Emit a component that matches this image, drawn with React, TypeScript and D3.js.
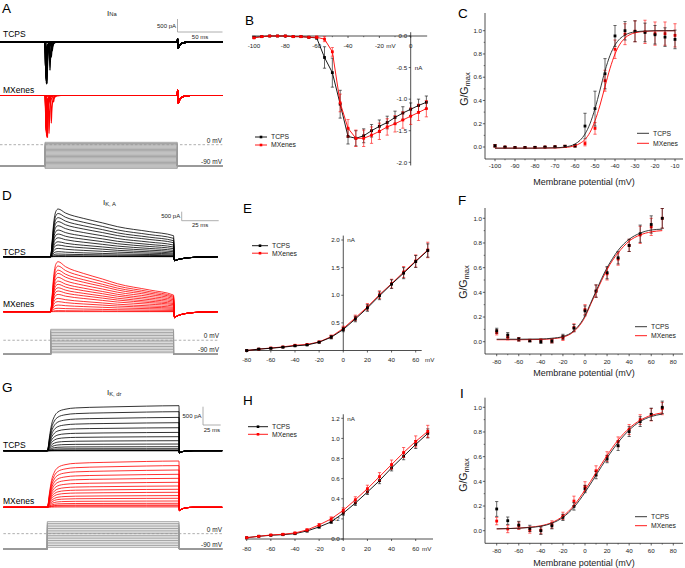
import React from "react";
import * as d3 from "d3";

type Pt = [number, number];
type Scale = d3.ScaleLinear<number, number>;

const FONT = "'Liberation Sans', Arial, Helvetica, sans-serif";
const RED = "#ff0000";
const GREY = "#9a9a9a";

// ---------- I_Na (A, B, C) ----------
const naVolt = [-100, -95, -90, -85, -80, -75, -70, -65, -60, -55, -50, -45, -40, -35, -30, -25, -20, -15, -10, -5, 0, 5, 10];
const naTcps = [-0.02, -0.01, 0.0, 0.0, 0.0, -0.01, -0.01, -0.02, -0.03, -0.34, -0.58, -1.08, -1.59, -1.62, -1.58, -1.5, -1.43, -1.37, -1.29, -1.22, -1.16, -1.1, -1.05];
const naTcpsErr = [0.01, 0.01, 0.01, 0.01, 0.01, 0.01, 0.01, 0.01, 0.02, 0.17, 0.23, 0.22, 0.12, 0.12, 0.11, 0.1, 0.1, 0.1, 0.1, 0.1, 0.1, 0.1, 0.1];
const naMx = [-0.03, -0.01, 0.0, 0.0, 0.0, -0.01, -0.01, -0.02, -0.02, -0.05, -0.25, -1.06, -1.46, -1.62, -1.62, -1.57, -1.51, -1.44, -1.39, -1.33, -1.27, -1.21, -1.15];
const naMxErr = [0.01, 0.01, 0.01, 0.01, 0.01, 0.01, 0.01, 0.01, 0.02, 0.04, 0.07, 0.14, 0.14, 0.13, 0.13, 0.13, 0.13, 0.13, 0.13, 0.13, 0.13, 0.13, 0.13];

// spike latency (ms) of each trace in A
const naLatTcps = [1, 1, 1, 1, 1, 1, 1, 1, 1, 8, 7, 5.5, 2.2, 1.8, 1.5, 1.3, 1.2, 1.1, 1.0, 0.95, 0.9, 0.85, 0.8];
const naLatMx = [1, 1, 1, 1, 1, 1, 1, 1, 1, 11, 9.5, 7, 4.5, 2.8, 2.2, 1.8, 1.6, 1.4, 1.3, 1.2, 1.1, 1.05, 1.0];
const naSpikeT = [-1.2, -0.5, 0, 0.5, 1.2, 2.2, 4, 7];
const naSpikeF = [0, 0.35, 1, 0.6, 0.3, 0.12, 0.03, 0];
const naTailT = [0, 0.4, 1, 2.5, 5, 9, 15];
const naTailTcps = [0, 120, -230, -130, -50, -15, 0];
const naTailMx = [0, 230, -300, -170, -70, -20, 0];
const naPulse = 147;

const gnaVolt = [-100, -95, -90, -85, -80, -75, -70, -65, -60, -55, -50, -45, -40, -35, -30, -25, -20, -15, -10];
const gnaTcps = [0.01, 0.0, -0.005, -0.005, -0.003, 0.0, 0.002, 0.005, 0.01, 0.18, 0.33, 0.63, 0.955, 1.0, 0.995, 0.985, 0.965, 0.945, 0.925];
const gnaTcpsErr = [0.01, 0.005, 0.005, 0.005, 0.005, 0.005, 0.005, 0.01, 0.01, 0.11, 0.15, 0.13, 0.09, 0.08, 0.09, 0.08, 0.08, 0.08, 0.08];
const gnaMx = [0.01, 0.0, -0.005, -0.005, -0.003, 0.0, 0.002, 0.005, 0.01, 0.03, 0.16, 0.57, 0.84, 0.97, 0.995, 0.99, 0.975, 0.975, 0.96];
const gnaMxErr = [0.01, 0.005, 0.005, 0.005, 0.005, 0.005, 0.005, 0.01, 0.01, 0.02, 0.05, 0.09, 0.08, 0.09, 0.09, 0.1, 0.1, 0.1, 0.1];
const gnaFitV = [-100, -90, -80, -70, -65, -60, -57.5, -55, -52.5, -50, -47.5, -45, -42.5, -40, -37.5, -35, -30, -25, -20, -10];
const gnaFitTcps = [-0.01, -0.01, -0.01, -0.007, 0.0, 0.026, 0.057, 0.112, 0.2, 0.33, 0.49, 0.655, 0.787, 0.877, 0.932, 0.963, 0.99, 0.997, 1.0, 1.0];
const gnaFitMx = [-0.01, -0.01, -0.01, -0.008, -0.004, 0.012, 0.031, 0.065, 0.126, 0.225, 0.36, 0.52, 0.675, 0.8, 0.885, 0.937, 0.982, 0.994, 0.998, 1.0];

// ---------- I_K,A (D, E, F) ----------
const kVolt = [-80, -70, -60, -50, -40, -30, -20, -10, 0, 10, 20, 30, 40, 50, 60, 70];
const kaPeakTcps = [5, 20, 60, 150, 280, 460, 650, 830, 1050, 1260, 1480, 1720, 1950, 2170, 2400, 2650];
const kaEndTcps = [2, 8, 19, 56, 93, 148, 204, 278, 352, 444, 537, 648, 778, 889, 1019, 1167];
const kaPeakMx = [5, 60, 190, 370, 560, 740, 960, 1150, 1330, 1520, 1700, 1910, 2130, 2310, 2540, 2780];
const kaEndMx = [2, 20, 70, 130, 190, 250, 320, 390, 450, 520, 590, 660, 730, 800, 860, 925];
const kaRiseT = [0, 0.8, 2, 3.5, 5];
const kaRiseF = [0, 0.25, 0.7, 0.95, 1];
const kaDecayT = [10, 22, 35, 45, 67, 83];
const kaDecayF = [0.85, 0.65, 0.48, 0.34, 0.15, 0];
const kaTailT = [0, 0.7, 2, 5, 10, 18, 30];
const kaTailTcps = [0, -220, -180, -120, -60, -20, 0];
const kaTailMx = [0, -330, -260, -160, -80, -25, 0];
const kaPulse = 83;

const kaTcps = [0.0, 0.025, 0.04, 0.06, 0.084, 0.1, 0.15, 0.24, 0.38, 0.57, 0.77, 0.99, 1.2, 1.4, 1.61, 1.81];
const kaTcpsErr = [0.01, 0.01, 0.01, 0.01, 0.01, 0.01, 0.015, 0.03, 0.04, 0.05, 0.06, 0.07, 0.08, 0.1, 0.11, 0.12];
const kaMx = [0.0, 0.025, 0.045, 0.065, 0.095, 0.11, 0.155, 0.25, 0.4, 0.59, 0.79, 1.01, 1.21, 1.42, 1.62, 1.82];
const kaMxErr = [0.01, 0.01, 0.01, 0.01, 0.01, 0.01, 0.015, 0.03, 0.04, 0.05, 0.06, 0.07, 0.08, 0.1, 0.11, 0.14];

const gkaTcps = [0.089, 0.054, 0.02, 0.008, 0.0, 0.005, 0.04, 0.11, 0.25, 0.41, 0.56, 0.68, 0.78, 0.875, 0.95, 1.0];
const gkaTcpsErr = [0.02, 0.02, 0.015, 0.01, 0.015, 0.015, 0.02, 0.03, 0.04, 0.05, 0.05, 0.05, 0.05, 0.07, 0.07, 0.08];
const gkaMx = [0.075, 0.035, 0.02, 0.01, 0.01, 0.005, 0.03, 0.115, 0.26, 0.41, 0.55, 0.67, 0.78, 0.865, 0.93, 1.0];
const gkaMxErr = [0.02, 0.02, 0.015, 0.01, 0.015, 0.015, 0.02, 0.03, 0.04, 0.05, 0.05, 0.05, 0.05, 0.07, 0.07, 0.08];
const gkaFitV = [-80, -60, -40, -30, -20, -10, 0, 5, 10, 15, 20, 25, 30, 40, 50, 60, 70];
const gkaFitTcps = [0.02, 0.02, 0.022, 0.028, 0.042, 0.09, 0.21, 0.31, 0.41, 0.51, 0.6, 0.675, 0.74, 0.83, 0.88, 0.905, 0.912];
const gkaFitMx = [0.016, 0.016, 0.018, 0.024, 0.037, 0.083, 0.2, 0.3, 0.4, 0.495, 0.585, 0.66, 0.72, 0.815, 0.865, 0.89, 0.9];

// ---------- I_K,dr (G, H, I) ----------
const kdrAmpTcps = [0, 2, 4, 8, 19, 55, 109, 182, 273, 383, 500, 628, 765, 910, 1066, 1230];
const kdrAmpMx = [10, 40, 63, 109, 172, 246, 320, 410, 492, 582, 683, 792, 902, 1019, 1139, 1265];
const kdrRiseT = [0, 1, 3, 6, 10, 15, 25, 40, 80, 140, 186];
const kdrRiseF = [0, 0.05, 0.3, 0.58, 0.76, 0.86, 0.92, 0.95, 0.97, 0.99, 1.0];
const kdrTailT = [0, 0.6, 2, 5, 10, 20];
const kdrTailTcps = [0, -60, -45, -25, -10, 0];
const kdrTailMx = [0, -90, -70, -40, -15, 0];
const kdrPulse = 186;

const kdrTcps = [0.013, 0.027, 0.037, 0.043, 0.053, 0.08, 0.12, 0.17, 0.257, 0.357, 0.467, 0.58, 0.707, 0.823, 0.94, 1.05];
const kdrTcpsErr = [0.005, 0.005, 0.006, 0.007, 0.008, 0.01, 0.012, 0.015, 0.02, 0.025, 0.025, 0.03, 0.03, 0.035, 0.04, 0.045];
const kdrMx = [0.013, 0.027, 0.04, 0.047, 0.06, 0.09, 0.14, 0.2, 0.285, 0.39, 0.5, 0.62, 0.74, 0.86, 0.97, 1.07];
const kdrMxErr = [0.005, 0.005, 0.006, 0.007, 0.008, 0.012, 0.015, 0.02, 0.025, 0.03, 0.035, 0.04, 0.045, 0.05, 0.055, 0.06];

const gkdrTcps = [0.176, 0.081, 0.046, 0.019, 0.0, 0.04, 0.108, 0.197, 0.338, 0.451, 0.581, 0.689, 0.803, 0.884, 0.943, 1.0];
const gkdrTcpsErr = [0.06, 0.03, 0.03, 0.025, 0.03, 0.025, 0.025, 0.03, 0.03, 0.03, 0.03, 0.04, 0.04, 0.04, 0.05, 0.05];
const gkdrMx = [0.078, 0.014, 0.04, 0.005, 0.005, 0.05, 0.12, 0.24, 0.357, 0.486, 0.6, 0.72, 0.82, 0.9, 0.94, 0.99];
const gkdrMxErr = [0.03, 0.03, 0.03, 0.025, 0.03, 0.03, 0.03, 0.04, 0.04, 0.04, 0.04, 0.04, 0.04, 0.04, 0.05, 0.05];
const gkdrFitV = [-80, -70, -60, -50, -40, -30, -20, -10, 0, 10, 20, 30, 40, 50, 60, 70];
const gkdrFitTcps = [0.015, 0.017, 0.02, 0.026, 0.036, 0.06, 0.108, 0.19, 0.31, 0.45, 0.59, 0.715, 0.815, 0.885, 0.925, 0.945];
const gkdrFitMx = [0.015, 0.017, 0.021, 0.028, 0.04, 0.066, 0.118, 0.205, 0.33, 0.47, 0.61, 0.735, 0.83, 0.895, 0.935, 0.955];

// ---------- trace builders ----------
function buildNa(peaks: number[], lat: number[], tail: number[], t0: number, t1: number): Pt[][] {
  return peaks.map((p, i) => {
    const amp = p * 1000;
    const pts: Pt[] = [[t0, 0], [0, 0]];
    naSpikeT.forEach((dt, k) => {
      const t = lat[i] + dt;
      if (t > 0.05) pts.push([t, amp * naSpikeF[k]]);
    });
    pts.push([naPulse, 0]);
    naTailT.forEach((dt, k) => { if (k > 0) pts.push([naPulse + dt, tail[k]]); });
    pts.push([t1, 0]);
    return pts;
  });
}

function buildKa(peak: number[], end: number[], tail: number[], t0: number, t1: number): Pt[][] {
  return peak.map((p, i) => {
    const e = end[i];
    const pts: Pt[] = [[t0, 0], [0, 0]];
    kaRiseT.forEach((t, k) => { if (k > 0) pts.push([t, p * kaRiseF[k]]); });
    kaDecayT.forEach((t, k) => pts.push([t, e + (p - e) * kaDecayF[k]]));
    kaTailT.forEach((t, k) => { if (k > 0) pts.push([kaPulse + t, tail[k]]); });
    pts.push([t1, 0]);
    return pts;
  });
}

function buildKdr(amp: number[], tail: number[], t0: number, t1: number): Pt[][] {
  return amp.map((a) => {
    const pts: Pt[] = [[t0, 0], [0, 0]];
    kdrRiseT.forEach((t, k) => { if (k > 0) pts.push([t, a * kdrRiseF[k]]); });
    kdrTailT.forEach((t, k) => { if (k > 0) pts.push([kdrPulse + t, tail[k]]); });
    pts.push([t1, 0]);
    return pts;
  });
}

// ---------- small drawing pieces ----------
const Traces = ({ sets, x, y, color, w = 0.8 }: { sets: Pt[][]; x: Scale; y: Scale; color: string; w?: number }) => {
  const line = d3.line<Pt>().x((d) => x(d[0])).y((d) => y(d[1])).curve(d3.curveMonotoneX);
  return <g>{sets.map((s, i) => <path key={i} d={line(s) || ""} fill="none" stroke={color} strokeWidth={w} />)}</g>;
};

const Protocol = ({ steps, x, v, t0, t1, pulse, labelX }: any) => {
  const line = d3.line<Pt>().x((d) => x(d[0])).y((d) => v(d[1]));
  return (
    <g>
      <line x1={x(t0)} x2={x(t1)} y1={v(0)} y2={v(0)} stroke={GREY} strokeWidth={0.8} strokeDasharray="2.5,2" />
      {steps.map((s: number, i: number) => (
        <path key={i} d={line([[t0, -90], [0, -90], [0, s], [pulse, s], [pulse, -90], [t1, -90]]) || ""} fill="none" stroke={GREY} strokeWidth={0.9} />
      ))}
      <text x={labelX} y={v(0) - 2} fontSize={6.5} textAnchor="end" fill="#222">0 mV</text>
      <text x={labelX} y={v(-90) - 2} fontSize={6.5} textAnchor="end" fill="#222">-90 mV</text>
    </g>
  );
};

const ScaleBar = ({ x0, y0, x, y, ms, pA, pALabel, msLabel }: any) => {
  const w = x(ms) - x(0);
  const h = y(0) - y(pA);
  return (
    <g>
      <path d={`M${x0},${y0 - h}V${y0}H${x0 + w}`} fill="none" stroke={GREY} strokeWidth={0.8} />
      <text x={x0 - 1.5} y={y0 - h / 2 + 2.2} fontSize={6} textAnchor="end" fill="#222">{pALabel}</text>
      <text x={x0 + w / 2} y={y0 + 6.5} fontSize={6} textAnchor="middle" fill="#222">{msLabel}</text>
    </g>
  );
};

const Series = ({ v, m, e, x, y, color, joined }: any) => {
  const pts: Pt[] = v.map((d: number, i: number) => [x(d), y(m[i])]);
  return (
    <g>
      {joined && <path d={d3.line<Pt>()(pts) || ""} fill="none" stroke={color} strokeWidth={0.9} />}
      {v.map((d: number, i: number) => {
        const cx = x(d);
        const y1 = y(m[i] + e[i]);
        const y2 = y(m[i] - e[i]);
        return (
          <g key={i} stroke={color} strokeWidth={0.7} opacity={0.85}>
            <line x1={cx} x2={cx} y1={y1} y2={y2} />
            <line x1={cx - 1.6} x2={cx + 1.6} y1={y1} y2={y1} />
            <line x1={cx - 1.6} x2={cx + 1.6} y1={y2} y2={y2} />
          </g>
        );
      })}
      {pts.map((p, i) => <rect key={i} x={p[0] - 1.4} y={p[1] - 1.4} width={2.8} height={2.8} fill={color} />)}
    </g>
  );
};

const Fit = ({ v, m, x, y, color }: any) => {
  const line = d3.line<number>().x((d) => x(d)).y((_, i) => y(m[i])).curve(d3.curveMonotoneX);
  return <path d={line(v) || ""} fill="none" stroke={color} strokeWidth={0.9} />;
};

const Letter = ({ x, y, t }: { x: number; y: number; t: string }) => (
  <text x={x} y={y} fontSize={13.5} fill="#000">{t}</text>
);

const IVLegend = ({ x0, y0, dy, len }: { x0: number; y0: number; dy: number; len: number }) => (
  <g fontSize={6.8} fill="#222">
    {[["TCPS", "#000"], ["MXenes", RED]].map(([t, c], i) => (
      <g key={t} transform={`translate(${x0},${y0 + i * dy})`}>
        <line x1={0} x2={len} y1={0} y2={0} stroke={c} strokeWidth={0.9} />
        <rect x={len / 2 - 1.3} y={-1.3} width={2.6} height={2.6} fill={c} />
        <text x={len + 4} y={2.3}>{t}</text>
      </g>
    ))}
  </g>
);

const GVLegend = ({ x0, y0, dy }: { x0: number; y0: number; dy: number }) => (
  <g fontSize={6.8} fill="#222">
    {[["TCPS", "#222"], ["MXenes", RED]].map(([t, c], i) => (
      <g key={t} transform={`translate(${x0},${y0 + i * dy})`}>
        <line x1={0} x2={12} y1={0} y2={0} stroke={c} strokeWidth={0.9} />
        <text x={16} y={2.3}>{t}</text>
      </g>
    ))}
  </g>
);

// G/Gmax panel frame
const GVFrame = ({ x, y, left, bottom, top, right, xMajor, xMinor, labelY, titleY, yTitleX, yTitleY }: any) => {
  const yMajor = [0, 0.2, 0.4, 0.6, 0.8, 1.0];
  const yMinor = [0.1, 0.3, 0.5, 0.7, 0.9];
  return (
    <g fill="#222">
      <path d={`M${left},${top}V${bottom}H${right}`} fill="none" stroke="#222" strokeWidth={0.8} />
      {xMajor.map((d: number) => (
        <g key={d}>
          <line x1={x(d)} x2={x(d)} y1={bottom} y2={bottom + 2.2} stroke="#222" strokeWidth={0.7} />
          <text x={x(d)} y={labelY} fontSize={6.2} textAnchor="middle">{d}</text>
        </g>
      ))}
      {xMinor.map((d: number) => <line key={d} x1={x(d)} x2={x(d)} y1={bottom} y2={bottom + 1.3} stroke="#222" strokeWidth={0.6} />)}
      {yMajor.map((d) => (
        <g key={d}>
          <line x1={left - 2.2} x2={left} y1={y(d)} y2={y(d)} stroke="#222" strokeWidth={0.7} />
          <text x={left - 3} y={y(d) + 2.2} fontSize={6.2} textAnchor="end">{d.toFixed(1)}</text>
        </g>
      ))}
      {yMinor.map((d) => <line key={d} x1={left - 1.3} x2={left} y1={y(d)} y2={y(d)} stroke="#222" strokeWidth={0.6} />)}
      <text x={(left + right) / 2} y={titleY} fontSize={9} textAnchor="middle">Membrane potential (mV)</text>
      <text transform={`translate(${yTitleX},${yTitleY}) rotate(-90)`} fontSize={10.5} textAnchor="middle">
        G/G<tspan fontSize={7.5} dy={1.5}>max</tspan>
      </text>
    </g>
  );
};

export default function App() {
  // ----- A: I_Na traces -----
  const xA = d3.scaleLinear().domain([0, 50]).range([45, 90]);
  const yAb = d3.scaleLinear().domain([0, 500]).range([42, 29]);
  const yAr = d3.scaleLinear().domain([0, 500]).range([95.5, 82.5]);
  const vA = d3.scaleLinear().domain([-90, 0]).range([166, 144.7]);
  const naT0 = -50, naT1 = 197;
  const naBlack = buildNa(naTcps, naLatTcps, naTailTcps, naT0, naT1);
  const naRed = buildNa(naMx, naLatMx, naTailMx, naT0, naT1);

  // ----- D: I_K,A traces -----
  const xD = d3.scaleLinear().domain([0, 25]).range([50.7, 87.7]);
  const yDb = d3.scaleLinear().domain([0, 500]).range([256.7, 247.7]);
  const yDr = d3.scaleLinear().domain([0, 500]).range([311.7, 302.7]);
  const vD = d3.scaleLinear().domain([-90, 70]).range([354.3, 329.3]);
  const kaT0 = -32, kaT1 = 113;
  const kaBlack = buildKa(kaPeakTcps, kaEndTcps, kaTailTcps, kaT0, kaT1);
  const kaRed = buildKa(kaPeakMx, kaEndMx, kaTailMx, kaT0, kaT1);

  // ----- G: I_K,dr traces -----
  const xG = d3.scaleLinear().domain([0, 25]).range([47.3, 65]);
  const yGb = d3.scaleLinear().domain([0, 500]).range([450.7, 432.4]);
  const yGr = d3.scaleLinear().domain([0, 500]).range([507.3, 489]);
  const vG = d3.scaleLinear().domain([-90, 70]).range([549, 521.7]);
  const kdrT0 = -62, kdrT1 = 247;
  const kdrBlack = buildKdr(kdrAmpTcps, kdrTailTcps, kdrT0, kdrT1);
  const kdrRed = buildKdr(kdrAmpMx, kdrTailMx, kdrT0, kdrT1);

  // ----- B -----
  const xB = d3.scaleLinear().domain([-100, 0]).range([254, 410.7]);
  const yB = d3.scaleLinear().domain([0, -2]).range([36, 162.3]);
  // ----- E / H -----
  const xE = d3.scaleLinear().domain([-80, 60]).range([246.7, 415.7]);
  const yE = d3.scaleLinear().domain([0, 2]).range([350.5, 240]);
  const yH = d3.scaleLinear().domain([0, 1.2]).range([539, 418.3]);
  // ----- C / F / I -----
  const xC = d3.scaleLinear().domain([-100, -10]).range([495, 675]);
  const yC = d3.scaleLinear().domain([0, 1]).range([147, 30.7]);
  const xF = d3.scaleLinear().domain([-80, 80]).range([496.7, 673.3]);
  const yF = d3.scaleLinear().domain([0, 1]).range([341.7, 218.3]);
  const yI = d3.scaleLinear().domain([0, 1]).range([530.7, 407.3]);

  const kMajor = [-80, -60, -40, -20, 0, 20, 40, 60];

  return (
    <svg width={685} height={568} style={{ position: "absolute", left: 0, top: 0, background: "#fff" }} fontFamily={FONT}>
      <rect width={685} height={568} fill="#fff" />

      {/* ===== A ===== */}
      <Letter x={2} y={12.5} t="A" />
      <text x={107} y={15.5} fontSize={8} fill="#222">I<tspan fontSize={5.8} dy={0.5}>Na</tspan></text>
      <text x={3} y={37} fontSize={8.5} fill="#000">TCPS</text>
      <text x={3} y={93} fontSize={8.5} fill="#000">MXenes</text>
      <Traces sets={naBlack} x={xA} y={yAb} color="#000" w={1.4} />
      <Traces sets={naRed} x={xA} y={yAr} color={RED} w={1.2} />
      <ScaleBar x0={177.5} y0={32} x={xA} y={yAb} ms={50} pA={500} pALabel="500 pA" msLabel="50 ms" />
      <Protocol steps={naVolt} x={xA} v={vA} t0={naT0} t1={naT1} pulse={naPulse} labelX={222} />

      {/* ===== B ===== */}
      <Letter x={245} y={25} t="B" />
      <g fill="#222">
        <line x1={xB(-101.3)} x2={xB(10.5)} y1={yB(0)} y2={yB(0)} stroke="#222" strokeWidth={0.8} />
        <line x1={xB(0)} x2={xB(0)} y1={yB(0.06)} y2={yB(-2.05)} stroke="#222" strokeWidth={0.8} />
        {[-100, -80, -60, -40, -20, 0].map((d) => (
          <g key={d}>
            <line x1={xB(d)} x2={xB(d)} y1={yB(0)} y2={yB(0) + 2} stroke="#222" strokeWidth={0.7} />
            <text x={xB(d)} y={48} fontSize={6.2} textAnchor="middle">{d}</text>
          </g>
        ))}
        <text x={xB(-20) + 7} y={48} fontSize={6.2}>mV</text>
        {[-90, -70, -50, -30, -10].map((d) => (
          <line key={d} x1={xB(d)} x2={xB(d)} y1={yB(0)} y2={yB(0) + 1.2} stroke="#222" strokeWidth={0.6} />
        ))}
        {[0, -0.5, -1, -1.5, -2].map((d) => (
          <g key={d}>
            <line x1={xB(0) - 2} x2={xB(0)} y1={yB(d)} y2={yB(d)} stroke="#222" strokeWidth={0.7} />
            <text x={xB(0) - 3.5} y={yB(d) + 2.2} fontSize={6.2} textAnchor="end">{d.toFixed(1)}</text>
          </g>
        ))}
        <text x={xB(0) + 4} y={yB(-0.5) + 2.2} fontSize={6.2}>nA</text>
      </g>
      <Series v={naVolt} m={naTcps} e={naTcpsErr} x={xB} y={yB} color="#000" joined />
      <Series v={naVolt} m={naMx} e={naMxErr} x={xB} y={yB} color={RED} joined />
      <IVLegend x0={255} y0={137} dy={8} len={12} />

      {/* ===== C ===== */}
      <Letter x={458} y={18} t="C" />
      <GVFrame x={xC} y={yC} left={485} bottom={159} top={13} right={683}
        xMajor={[-100, -90, -80, -70, -60, -50, -40, -30, -20, -10]}
        xMinor={[-95, -85, -75, -65, -55, -45, -35, -25, -15]}
        labelY={168.3} titleY={185} yTitleX={468} yTitleY={89} />
      <Series v={gnaVolt} m={gnaMx} e={gnaMxErr} x={xC} y={yC} color={RED} />
      <Series v={gnaVolt} m={gnaTcps} e={gnaTcpsErr} x={xC} y={yC} color="#000" />
      <Fit v={gnaFitV} m={gnaFitMx} x={xC} y={yC} color={RED} />
      <Fit v={gnaFitV} m={gnaFitTcps} x={xC} y={yC} color="#222" />
      <GVLegend x0={637} y0={133.3} dy={10} />

      {/* ===== D ===== */}
      <Letter x={2} y={200} t="D" />
      <text x={103} y={205} fontSize={8} fill="#222">I<tspan fontSize={5.8} dy={0.5}>K, A</tspan></text>
      <text x={3} y={255} fontSize={8.5} fill="#000">TCPS</text>
      <text x={3} y={307} fontSize={8.5} fill="#000">MXenes</text>
      <Traces sets={kaBlack} x={xD} y={yDb} color="#000" w={0.8} />
      <Traces sets={kaRed} x={xD} y={yDr} color={RED} w={0.8} />
      <ScaleBar x0={181.7} y0={220.7} x={xD} y={yDb} ms={25} pA={500} pALabel="500 pA" msLabel="25 ms" />
      <Protocol steps={kVolt} x={xD} v={vD} t0={kaT0} t1={kaT1} pulse={kaPulse} labelX={219} />

      {/* ===== E ===== */}
      <Letter x={243} y={213} t="E" />
      <g fill="#222">
        <line x1={245} x2={421.7} y1={yE(0)} y2={yE(0)} stroke="#222" strokeWidth={0.8} />
        <line x1={xE(0)} x2={xE(0)} y1={yE(0)} y2={yE(2.08)} stroke="#222" strokeWidth={0.8} />
        {kMajor.map((d) => (
          <g key={d}>
            <line x1={xE(d)} x2={xE(d)} y1={yE(0)} y2={yE(0) + 2} stroke="#222" strokeWidth={0.7} />
            <text x={xE(d)} y={361.5} fontSize={6.2} textAnchor="middle">{d}</text>
          </g>
        ))}
        <text x={425} y={361.5} fontSize={6.2}>mV</text>
        {[0.5, 1, 1.5, 2].map((d) => (
          <g key={d}>
            <line x1={xE(0) - 2} x2={xE(0)} y1={yE(d)} y2={yE(d)} stroke="#222" strokeWidth={0.7} />
            <text x={xE(0) - 3.5} y={yE(d) + 2.2} fontSize={6.2} textAnchor="end">{d.toFixed(1)}</text>
          </g>
        ))}
        <text x={xE(0) + 4} y={yE(2) + 2.2} fontSize={6.2}>nA</text>
      </g>
      <Series v={kVolt} m={kaMx} e={kaMxErr} x={xE} y={yE} color={RED} joined />
      <Series v={kVolt} m={kaTcps} e={kaTcpsErr} x={xE} y={yE} color="#000" joined />
      <IVLegend x0={252} y0={245.7} dy={7.5} len={16} />

      {/* ===== F ===== */}
      <Letter x={458} y={205} t="F" />
      <GVFrame x={xF} y={yF} left={485} bottom={354} top={208} right={683}
        xMajor={[-80, -60, -40, -20, 0, 20, 40, 60, 80]}
        xMinor={[-70, -50, -30, -10, 10, 30, 50, 70]}
        labelY={364} titleY={376} yTitleX={467} yTitleY={282} />
      <Series v={kVolt} m={gkaMx} e={gkaMxErr} x={xF} y={yF} color={RED} />
      <Series v={kVolt} m={gkaTcps} e={gkaTcpsErr} x={xF} y={yF} color="#000" />
      <Fit v={gkaFitV} m={gkaFitMx} x={xF} y={yF} color={RED} />
      <Fit v={gkaFitV} m={gkaFitTcps} x={xF} y={yF} color="#222" />
      <GVLegend x0={635} y0={326.7} dy={9} />

      {/* ===== G ===== */}
      <Letter x={2} y={392} t="G" />
      <text x={107} y={395} fontSize={8} fill="#222">I<tspan fontSize={5.8} dy={0.5}>K, dr</tspan></text>
      <text x={3} y={448} fontSize={8.5} fill="#000">TCPS</text>
      <text x={3} y={504} fontSize={8.5} fill="#000">MXenes</text>
      <Traces sets={kdrBlack} x={xG} y={yGb} color="#000" w={0.8} />
      <Traces sets={kdrRed} x={xG} y={yGr} color={RED} w={0.8} />
      <ScaleBar x0={203} y0={425} x={xG} y={yGb} ms={25} pA={500} pALabel="500 pA" msLabel="25 ms" />
      <Protocol steps={kVolt} x={xG} v={vG} t0={kdrT0} t1={kdrT1} pulse={kdrPulse} labelX={222} />

      {/* ===== H ===== */}
      <Letter x={243} y={405} t="H" />
      <g fill="#222">
        <line x1={245} x2={433} y1={yH(0)} y2={yH(0)} stroke="#222" strokeWidth={0.8} />
        <line x1={xE(0)} x2={xE(0)} y1={yH(0)} y2={yH(1.24)} stroke="#222" strokeWidth={0.8} />
        {kMajor.map((d) => (
          <g key={d}>
            <line x1={xE(d)} x2={xE(d)} y1={yH(0)} y2={yH(0) + 2} stroke="#222" strokeWidth={0.7} />
            <text x={xE(d)} y={551} fontSize={6.2} textAnchor="middle">{d}</text>
          </g>
        ))}
        <text x={422} y={551} fontSize={6.2}>mV</text>
        {[0, 0.2, 0.4, 0.6, 0.8, 1.0, 1.2].map((d) => (
          <g key={d}>
            <line x1={xE(0) - 2} x2={xE(0)} y1={yH(d)} y2={yH(d)} stroke="#222" strokeWidth={0.7} />
            <text x={xE(0) - 3.5} y={yH(d) + 2.2} fontSize={6.2} textAnchor="end">{d.toFixed(1)}</text>
          </g>
        ))}
        <text x={xE(0) + 4} y={yH(1.2) + 2.2} fontSize={6.2}>nA</text>
      </g>
      <Series v={kVolt} m={kdrTcps} e={kdrTcpsErr} x={xE} y={yH} color="#000" joined />
      <Series v={kVolt} m={kdrMx} e={kdrMxErr} x={xE} y={yH} color={RED} joined />
      <IVLegend x0={248} y0={426.7} dy={7.6} len={20} />

      {/* ===== I ===== */}
      <Letter x={460} y={398} t="I" />
      <GVFrame x={xF} y={yI} left={485} bottom={543.3} top={397.7} right={683}
        xMajor={[-80, -60, -40, -20, 0, 20, 40, 60, 80]}
        xMinor={[-70, -50, -30, -10, 10, 30, 50, 70]}
        labelY={553} titleY={565.5} yTitleX={467} yTitleY={475} />
      <Series v={kVolt} m={gkdrMx} e={gkdrMxErr} x={xF} y={yI} color={RED} />
      <Series v={kVolt} m={gkdrTcps} e={gkdrTcpsErr} x={xF} y={yI} color="#000" />
      <Fit v={gkdrFitV} m={gkdrFitMx} x={xF} y={yI} color={RED} />
      <Fit v={gkdrFitV} m={gkdrFitTcps} x={xF} y={yI} color="#222" />
      <GVLegend x0={635} y0={516.7} dy={9} />
    </svg>
  );
}
